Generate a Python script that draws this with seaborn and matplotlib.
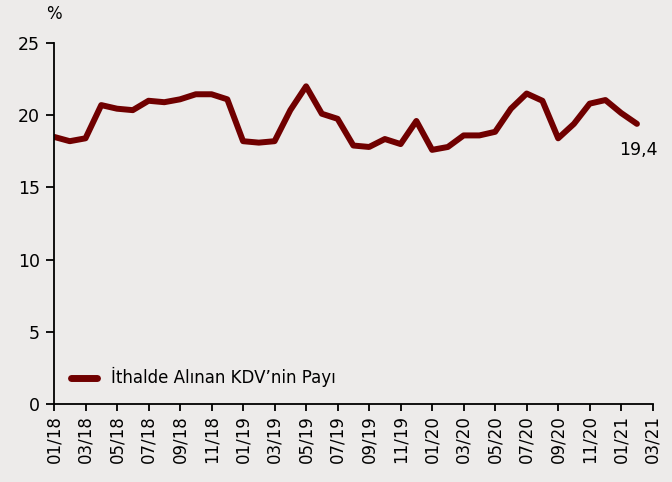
import matplotlib
matplotlib.use("Agg")
import matplotlib.pyplot as plt
import seaborn as sns
import pandas as pd

months = ["01/18","02/18","03/18","04/18","05/18","06/18","07/18","08/18","09/18","10/18","11/18","12/18",
          "01/19","02/19","03/19","04/19","05/19","06/19","07/19","08/19","09/19","10/19","11/19","12/19",
          "01/20","02/20","03/20","04/20","05/20","06/20","07/20","08/20","09/20","10/20","11/20","12/20",
          "01/21","02/21"]
values = [18.5, 18.2, 18.4, 20.7, 20.45, 20.35, 21.0, 20.9, 21.1, 21.45, 21.45, 21.1,
          18.2, 18.1, 18.2, 20.35, 22.0, 20.1, 19.75, 17.9, 17.8, 18.35, 18.0, 19.6,
          17.6, 17.8, 18.6, 18.6, 18.85, 20.45, 21.5, 21.0, 18.4, 19.4, 20.8, 21.05,
          20.15, 19.4]
tick_labels = ["01/18","03/18","05/18","07/18","09/18","11/18","01/19","03/19","05/19","07/19",
               "09/19","11/19","01/20","03/20","05/20","07/20","09/20","11/20","01/21","03/21"]
series_name = "İthalde Alınan KDV’nin Payı"
last_label = "19,4"

sns.set_style("white")
plt.rcParams['font.family'] = ['DejaVu Sans']
plt.rcParams['text.color'] = 'black'
plt.rcParams['xtick.color'] = 'black'
plt.rcParams['ytick.color'] = 'black'
plt.rcParams['axes.labelcolor'] = 'black'

bg = "#EDEBEA"
line_color = "#700000"

df = pd.DataFrame({"idx": range(len(values)), "val": values, "series": series_name})

fig = plt.figure(figsize=(6.72, 4.82), dpi=100, facecolor=bg)
ax = fig.add_axes([54/672, 1-404/482, (652.7-54)/672, (404-43)/482])
ax.set_facecolor(bg)

sns.lineplot(data=df, x="idx", y="val", hue="series", palette=[line_color],
             linewidth=4.3, ax=ax, legend=True)

ax.set_xlim(0, 38)
ax.set_ylim(0, 25)
ax.set_yticks([0, 5, 10, 15, 20, 25])
ax.set_xticks(list(range(0, 39, 2)))
ax.set_xticklabels(tick_labels, rotation=90, fontsize=12)
ax.tick_params(axis='y', labelsize=12.5, length=6, width=1.3, direction='out', left=True, pad=4,
               colors='black')
ax.tick_params(axis='x', length=5, width=1.3, direction='out', bottom=True, pad=3, colors='black')
ax.set_xlabel("")
ax.set_ylabel("")
for s in ["top", "right"]:
    ax.spines[s].set_visible(False)
for s in ["left", "bottom"]:
    ax.spines[s].set_color("black")
    ax.spines[s].set_linewidth(1.3)

ax.text(0.0, 1.055, "%", transform=ax.transAxes, fontsize=12, ha="center", va="bottom", color="black")
ax.annotate(last_label, xy=(len(values)-1, values[-1]), xytext=(1, -12), textcoords="offset points",
            ha="center", va="top", fontsize=12.5, color="black")

leg = ax.legend(loc="lower left", bbox_to_anchor=(0.0, 0.0), frameon=False, fontsize=12,
                handlelength=1.6, handletextpad=0.8, borderaxespad=0.6)
for t in leg.get_texts():
    t.set_color("black")
for h in leg.get_lines():
    h.set_linewidth(5)
    h.set_solid_capstyle("round")

fig.savefig("out.png", dpi=100, facecolor=bg)
